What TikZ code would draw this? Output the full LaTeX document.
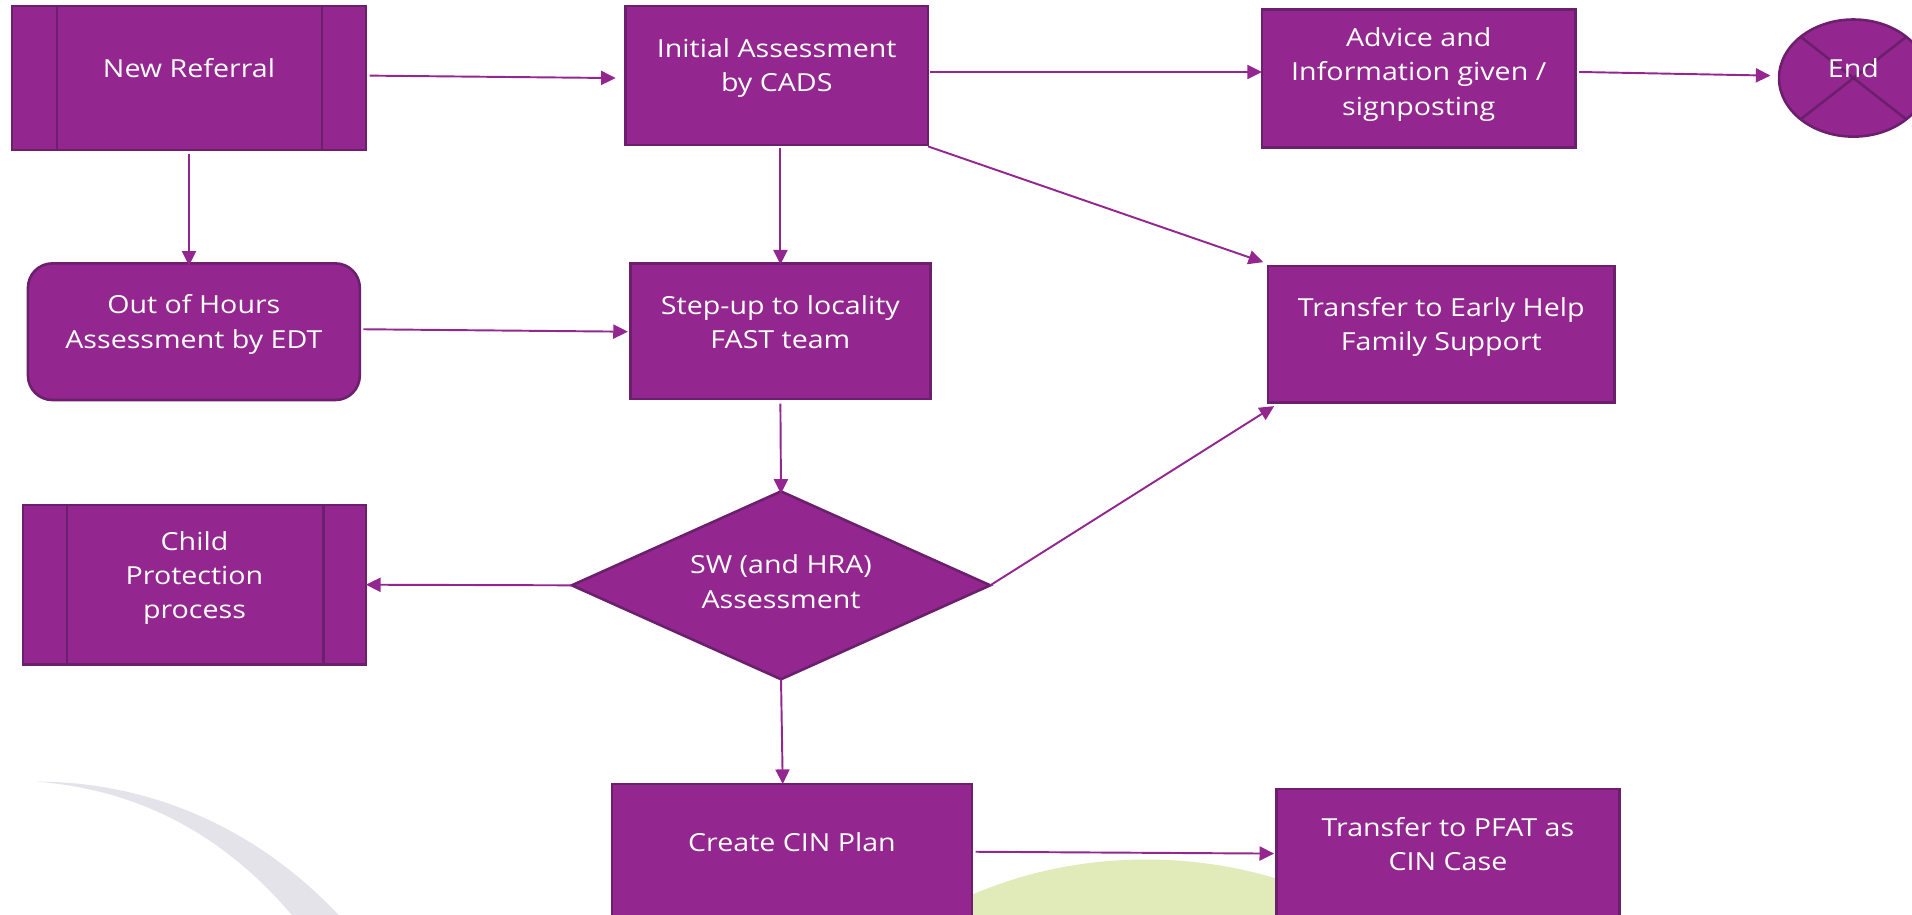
\documentclass[tikz,border=0pt]{standalone}
\usepackage{fontspec}
\setmainfont{Open Sans}[FakeStretch=1.15]
\usetikzlibrary{arrows.meta,calc,shapes.geometric}
\definecolor{pfill}{HTML}{93278F}
\definecolor{pline}{HTML}{6B1F6C}
\definecolor{parrow}{HTML}{93278F}
\definecolor{arcgray}{HTML}{E3E3E9}
\definecolor{leaf}{HTML}{E1EBB9}
\begin{document}
\begin{tikzpicture}[x=0.01cm,y=-0.01cm,
  box/.style={draw=pline, fill=pfill, line width=0.6pt, inner sep=0pt, outer sep=0pt},
  txt/.style={text=white, align=center, font=\fontsize{5.8}{8}\selectfont, inner sep=0pt},
  arr/.style={draw=parrow, line width=0.45pt, -{Triangle[length=0.12cm,width=0.115cm]}},
  divider/.style={draw=pline, line width=0.6pt}]
\useasboundingbox (0,0) rectangle (1568,750);
\clip (0,0) rectangle (1568,750);
% background decoration
\fill[arcgray] (30,641) .. controls (130,641) and (225,685) .. (295,770) -- (255,770) .. controls (195,690) and (120,648) .. (30,641) -- cycle;
\fill[leaf] (940,945) ellipse [x radius=3cm, y radius=2.4cm];
% nodes
\node[box, minimum width=2.9cm, minimum height=1.18cm] (nr) at (155,64) {};
\draw[divider] ($(nr.north west)+(37,0)$) -- ($(nr.south west)+(37,0)$);
\draw[divider] ($(nr.north east)+(-36,0)$) -- ($(nr.south east)+(-36,0)$);
\node[txt] (nrt) at ($(nr)+(0,-8)$) {New Referral};

\node[box, minimum width=2.48cm, minimum height=1.14cm] (ia) at (637,62) {};
\node[txt] (iat) at ($(ia)+(0,-6)$) {Initial Assessment\\by CADS};

\node[box, minimum width=2.57cm, minimum height=1.13cm] (adv) at (1163.5,64.5) {};
\node[txt] (advt) at ($(adv)+(0,-3.5)$) {Advice and\\Information given /\\signposting};

\node[box, ellipse, minimum width=1.22cm, minimum height=0.96cm] (end) at (1520,64) {};
\draw[divider] (end.142) -- (end.322);
\draw[divider] (end.38) -- (end.218);
\node[txt] (endt) at ($(end)+(0,-8.5)$) {End};

\node[box, rounded corners=0.2cm, minimum width=2.72cm, minimum height=1.12cm] (ooh) at (159,272) {};
\node[txt] (ooht) at ($(ooh)+(0,-6)$) {Out of Hours\\Assessment by EDT};

\node[box, minimum width=2.46cm, minimum height=1.11cm] (su) at (640,271.5) {};
\node[txt] (sut) at ($(su)+(0,-7.5)$) {Step-up to locality\\FAST team};

\node[box, minimum width=2.84cm, minimum height=1.12cm] (eh) at (1182,274) {};
\node[txt] (eht) at ($(eh)+(0,-6)$) {Transfer to Early Help\\Family Support};

\node[box, minimum width=2.81cm, minimum height=1.31cm] (cp) at (159.5,479.5) {};
\draw[divider] ($(cp.north west)+(36,0)$) -- ($(cp.south west)+(36,0)$);
\draw[divider] ($(cp.north east)+(-35,0)$) -- ($(cp.south east)+(-35,0)$);
\node[txt] (cpt) at ($(cp)+(0,-5.5)$) {Child\\Protection\\process};

\node[box, diamond, minimum width=3.43cm, minimum height=1.54cm] (sw) at (640.5,480) {};
\node[txt] (swt) at ($(sw)+(0,-3)$) {SW (and HRA)\\Assessment};

\node[box, minimum width=2.95cm, minimum height=1.15cm] (cin) at (649.5,700.5) {};
\node[txt] (cint) at ($(cin)+(0,-10)$) {Create CIN Plan};

\node[box, minimum width=2.81cm, minimum height=1.15cm] (pfat) at (1187.5,704.5) {};
\node[txt] (pfatt) at ($(pfat)+(0,-12)$) {Transfer to PFAT as\\CIN Case};

% connectors
\draw[arr] ($(nr.east)+(3,-2)$) -- ($(ia.west)+(-8,2)$);
\draw[arr] ($(ia.east)+(2,-3)$) -- ($(adv.west)+(0,-5.5)$);
\draw[arr] ($(adv.east)+(3,-5.5)$) -- ($(end.west)+(-7,-2)$);
\draw[arr] ($(nr.south)+(0,3)$) -- ($(nr.south |- ooh.north)+(0,2)$);
\draw[arr] ($(su.north |- ia.south)+(0,2)$) -- ($(su.north)+(0,1)$);
\draw[arr] ($(ia.south east)+(0,1)$) -- ($(eh.north west)+(-4,-3)$);
\draw[arr] ($(ooh.east)+(3,-2)$) -- ($(su.west)+(-2,0.5)$);
\draw[arr] ($(su.south)+(0,4)$) -- ($(sw.north)+(0,2)$);
\draw[arr] (sw.west) -- (cp.east);
\draw[arr] (sw.east) -- ($(eh.south west)+(5,3)$);
\draw[arr] (sw.south) -- ($(cin.north west)+(140,0)$);
\draw[arr] ($(cin.east)+(3,-2)$) -- ($(pfat.west)+(-2,-4.5)$);
\end{tikzpicture}
\end{document}
